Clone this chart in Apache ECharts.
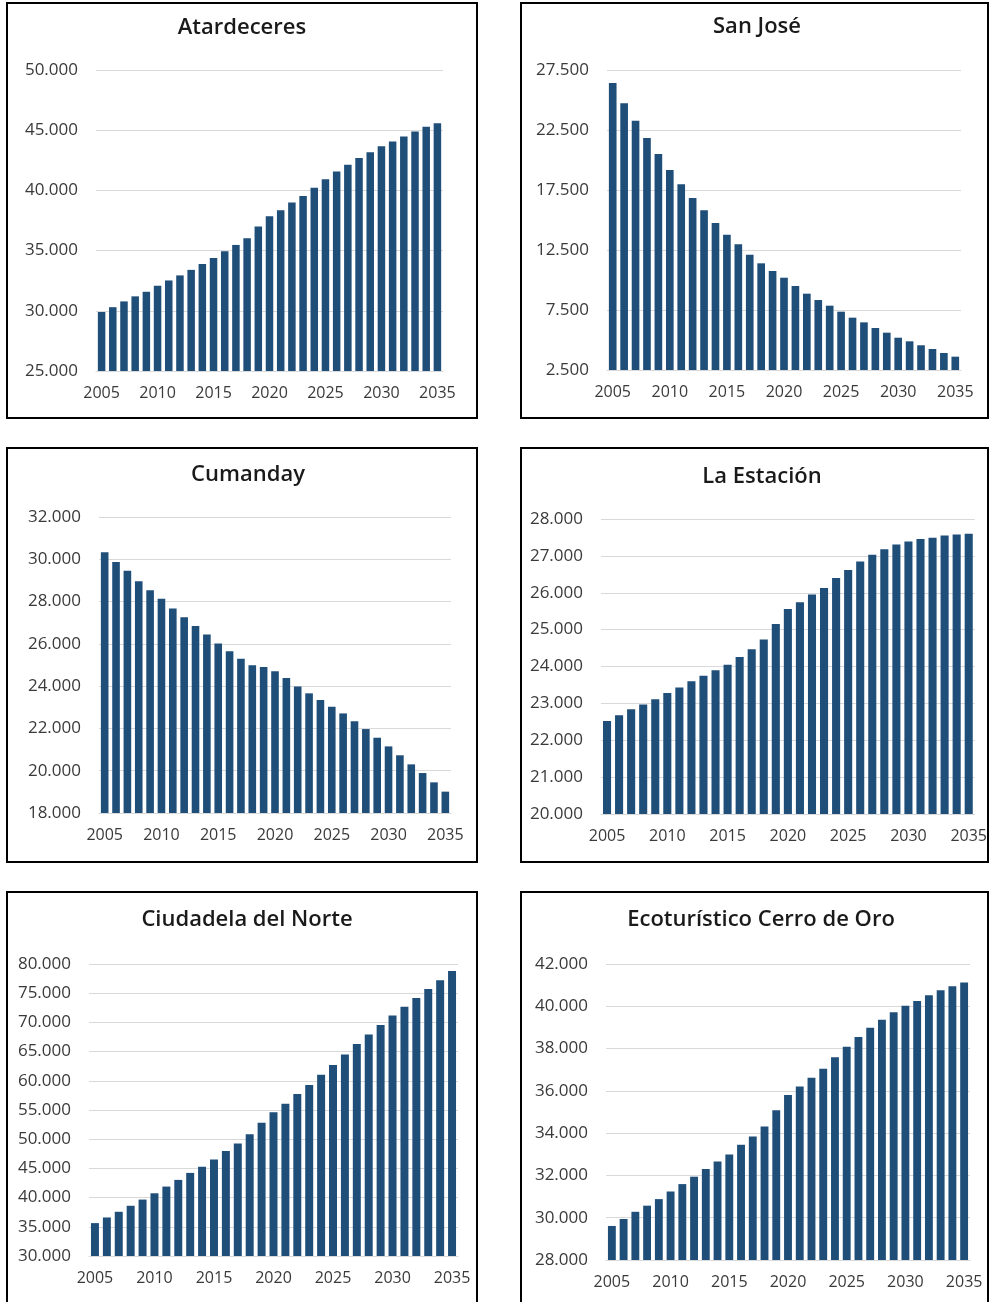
<!DOCTYPE html>
<html>
<head>
<meta charset="utf-8">
<script src="https://cdn.jsdelivr.net/npm/echarts@6/dist/echarts.min.js"></script>
<style>
html,body{margin:0;padding:0;background:#fff;}
#c{width:990px;height:1302px;}
</style>
</head>
<body>
<div id="c"></div>
<script>
var years = [];
for (var y = 2005; y <= 2035; y++) years.push(String(y));

var titles = ['Atardeceres', 'San José', 'Cumanday', 'La Estación', 'Ciudadela del Norte', 'Ecoturístico Cerro de Oro'];

var atardeceres = [29900,30300,30780,31200,31580,32080,32520,32940,33400,33890,34390,34940,35470,36030,37000,37860,38360,39000,39530,40220,40920,41560,42140,42700,43170,43670,44060,44480,44890,45280,45580];
var sanJose = [26420,24720,23280,21830,20500,19170,17970,16830,15810,14750,13780,12970,12110,11390,10750,10190,9500,8860,8330,7860,7360,6860,6470,6000,5610,5190,4890,4560,4250,3920,3610];
var cumanday = [30330,29870,29460,28960,28540,28130,27670,27260,26850,26440,26020,25650,25290,24990,24900,24710,24390,23980,23660,23350,23030,22710,22340,21970,21560,21150,20730,20300,19890,19450,19010];
var laEstacion = [22520,22680,22840,22970,23110,23280,23430,23600,23750,23900,24050,24260,24470,24730,25150,25560,25740,25950,26130,26400,26620,26850,27030,27180,27310,27390,27460,27490,27550,27580,27600];
var ciudadela = [35630,36600,37570,38600,39660,40740,41890,43030,44230,45290,46540,48000,49260,50860,52800,54600,56090,57740,59260,61030,62690,64490,66310,67910,69540,71200,72690,74170,75710,77200,78800];
var cerroOro = [29610,29940,30280,30570,30880,31240,31590,31940,32300,32660,32990,33450,33840,34310,35080,35800,36210,36620,37050,37590,38090,38550,38990,39360,39720,40030,40250,40520,40760,40950,41130];

var yMin = [25000, 2500, 18000, 20000, 30000, 28000];
var yMax = [50000, 27500, 32000, 28000, 80000, 42000];
var yStep = [5000, 5000, 2000, 1000, 5000, 2000];

var seriesData = [atardeceres, sanJose, cumanday, laEstacion, ciudadela, cerroOro];

// layout (pixels)
var grids = [
  {left: 96, top: 70, width: 347, height: 301},
  {left: 607, top: 70, width: 354, height: 300},
  {left: 99, top: 517, width: 352, height: 296},
  {left: 601, top: 519, width: 375, height: 295},
  {left: 89, top: 964, width: 369, height: 292},
  {left: 606, top: 964, width: 364, height: 296}
];
var titlePos = [[242, 26], [757, 25], [248, 473], [762, 475], [247, 918], [761, 918]];
var boxes = [
  [7, 3, 470, 415], [521, 3, 467, 415],
  [7, 448, 470, 414], [521, 448, 467, 414],
  [7, 892, 470, 420], [521, 892, 467, 420]
];

function fmt(v) {
  return String(v).replace(/\B(?=(\d{3})+(?!\d))/g, '.');
}

var FONT = '"Open Sans", "Noto Sans", sans-serif';
var option = {
  animation: false,
  backgroundColor: '#ffffff',
  title: [], grid: [], xAxis: [], yAxis: [], series: [],
  graphic: []
};

for (var i = 0; i < 6; i++) {
  option.title.push({
    text: titles[i],
    left: titlePos[i][0], top: titlePos[i][1] - 9,
    textAlign: 'center', padding: 0,
    textStyle: {fontFamily: FONT, fontSize: 22, fontWeight: 600, color: '#1a1a1a'}
  });
  option.grid.push(grids[i]);
  option.xAxis.push({
    type: 'category', gridIndex: i, data: years,
    axisLine: {show: true, lineStyle: {color: '#d9d9d9', width: 1}},
    axisTick: {show: false},
    axisLabel: {interval: 4, margin: 14, fontFamily: FONT, fontSize: 16, color: '#3a3a3a'}
  });
  option.yAxis.push({
    type: 'value', gridIndex: i,
    min: yMin[i], max: yMax[i], interval: yStep[i],
    axisLine: {show: false}, axisTick: {show: false},
    splitLine: {lineStyle: {color: '#d9d9d9', width: 1}},
    axisLabel: {margin: 18, fontFamily: FONT, fontSize: 17, color: '#3a3a3a', formatter: fmt}
  });
  option.series.push({
    type: 'bar', xAxisIndex: i, yAxisIndex: i,
    data: seriesData[i],
    barCategoryGap: '33%',
    itemStyle: {color: '#1f4e79'}
  });
  option.graphic.push({
    type: 'rect', silent: true,
    shape: {x: boxes[i][0], y: boxes[i][1], width: boxes[i][2], height: boxes[i][3]},
    style: {fill: 'none', stroke: '#000', lineWidth: 2}
  });
}

var chart = echarts.init(document.getElementById('c'), null, {renderer: 'canvas'});
chart.setOption(option);
</script>
</body>
</html>
